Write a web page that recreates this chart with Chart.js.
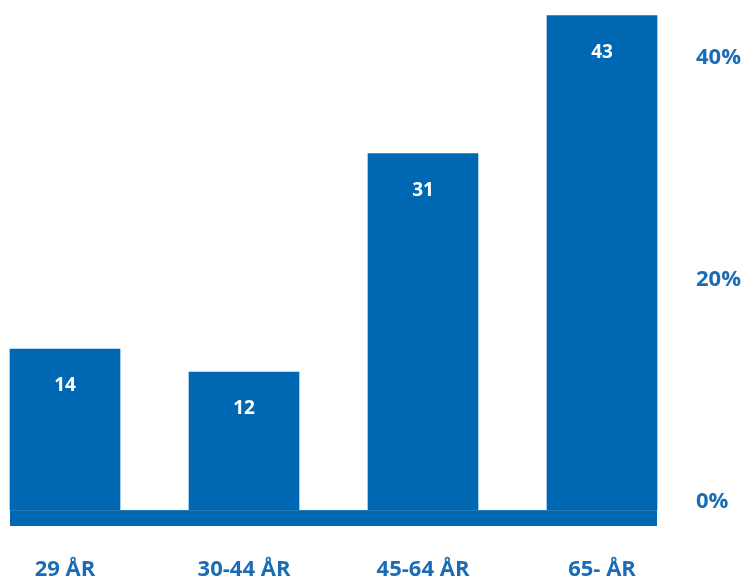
<!DOCTYPE html>
<html>
<head>
<meta charset="utf-8">
<script src="https://cdn.jsdelivr.net/npm/chart.js@4"></script>
<style>
  html, body { margin: 0; padding: 0; background: #ffffff; }
  #wrap { width: 747px; height: 581px; }
</style>
</head>
<body>
<div id="wrap"><canvas id="chart" width="747" height="581"></canvas></div>
<script>
// Age groups and their shares (%)
const categories = ['29 ÅR', '30-44 ÅR', '45-64 ÅR', '65- ÅR'];
const shares = [14, 12, 31, 43];
const tickValues = [0, 20, 40];

const BAR_BLUE = '#0068b3';
const TEXT_BLUE = '#1a6db5';
const FONT = "'Open Sans', 'DejaVu Sans', sans-serif";

// Thick floor band under the bars, spanning from first to last bar
const floorBand = {
  id: 'floorBand',
  afterDatasetsDraw(chart) {
    const meta = chart.getDatasetMeta(0);
    if (!meta.data.length) return;
    const first = meta.data[0];
    const last = meta.data[meta.data.length - 1];
    const left = first.x - first.width / 2;
    const right = last.x + last.width / 2;
    const y0 = chart.chartArea.bottom;
    const ctx = chart.ctx;
    ctx.save();
    ctx.fillStyle = BAR_BLUE;
    ctx.fillRect(left, y0, right - left, 16);
    ctx.fillStyle = 'rgba(255,255,255,0.12)';
    ctx.fillRect(left, y0, right - left, 1);
    ctx.restore();
  }
};

// White value labels inside the top of each bar
const valueLabels = {
  id: 'valueLabels',
  afterDatasetsDraw(chart) {
    const ctx = chart.ctx;
    const meta = chart.getDatasetMeta(0);
    const data = chart.data.datasets[0].data;
    ctx.save();
    ctx.fillStyle = '#ffffff';
    ctx.font = 'bold 19px ' + FONT;
    ctx.textAlign = 'center';
    ctx.textBaseline = 'middle';
    meta.data.forEach((el, i) => {
      ctx.fillText(String(data[i]), el.x, el.y + 37);
    });
    ctx.restore();
  }
};

// Fixed axis sizes; edge padding comes only from layout.padding
function fixSize(prop, size) {
  return scale => {
    scale[prop] = size;
    scale.paddingTop = 0;
    scale.paddingBottom = 0;
    scale.paddingLeft = 0;
    scale.paddingRight = 0;
  };
}

new Chart(document.getElementById('chart'), {
  type: 'bar',
  data: {
    labels: categories,
    datasets: [{
      data: shares,
      backgroundColor: BAR_BLUE,
      borderWidth: 0,
      barThickness: 110,
      clip: false
    }]
  },
  options: {
    responsive: false,
    animation: false,
    devicePixelRatio: 1,
    layout: { padding: { left: 65, top: 4, right: 0, bottom: 0 } },
    plugins: {
      legend: { display: false },
      tooltip: { enabled: false }
    },
    scales: {
      x: {
        type: 'category',
        offset: false,
        grid: { display: false, drawTicks: false },
        border: { display: false },
        ticks: {
          color: TEXT_BLUE,
          font: { family: FONT, size: 22, weight: 'bold' },
          padding: 47,
          maxRotation: 0,
          autoSkip: false
        },
        afterFit: fixSize('height', 71)
      },
      y: {
        display: false,
        min: 0,
        max: 44
      },
      y2: {
        position: 'right',
        min: -0.72,
        max: 44.86,
        grid: { display: false, drawTicks: false },
        border: { display: false },
        ticks: {
          color: TEXT_BLUE,
          font: { family: FONT, size: 22, weight: 'bold' },
          padding: 94,
          callback: v => v + '%'
        },
        afterBuildTicks(scale) {
          scale.ticks = tickValues.map(v => ({ value: v }));
        },
        afterFit: fixSize('width', 145)
      }
    }
  },
  plugins: [floorBand, valueLabels]
});
</script>
</body>
</html>
